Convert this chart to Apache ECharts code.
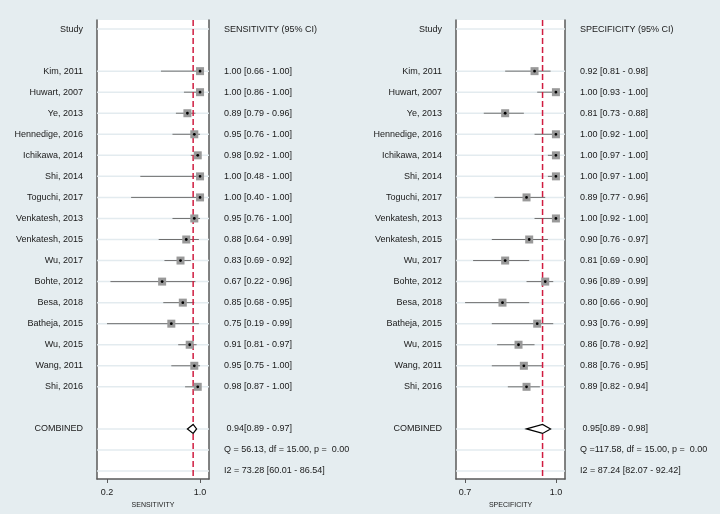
<!DOCTYPE html>
<html>
<head>
<meta charset="utf-8">
<script src="https://cdn.jsdelivr.net/npm/echarts@6/dist/echarts.min.js"></script>
<style>
html,body{margin:0;padding:0;background:#e5edf0;}
#chart{width:720px;height:514px;}
</style>
</head>
<body>
<div id="chart"></div>
<script>
// ---- data ----
const studies = ['Kim, 2011','Huwart, 2007','Ye, 2013','Hennedige, 2016','Ichikawa, 2014','Shi, 2014','Toguchi, 2017','Venkatesh, 2013','Venkatesh, 2015','Wu, 2017','Bohte, 2012','Besa, 2018','Batheja, 2015','Wu, 2015','Wang, 2011','Shi, 2016'];
const sensEst = [1.00,1.00,0.89,0.95,0.98,1.00,1.00,0.95,0.88,0.83,0.67,0.85,0.75,0.91,0.95,0.98];
const sensLo  = [0.66,0.86,0.79,0.76,0.92,0.48,0.40,0.76,0.64,0.69,0.22,0.68,0.19,0.81,0.75,0.87];
const sensHi  = [1.00,1.00,0.96,1.00,1.00,1.00,1.00,1.00,0.99,0.92,0.96,0.95,0.99,0.97,1.00,1.00];
const specEst = [0.92,1.00,0.81,1.00,1.00,1.00,0.89,1.00,0.90,0.81,0.96,0.80,0.93,0.86,0.88,0.89];
const specLo  = [0.81,0.93,0.73,0.92,0.97,0.97,0.77,0.92,0.76,0.69,0.89,0.66,0.76,0.78,0.76,0.82];
const specHi  = [0.98,1.00,0.88,1.00,1.00,1.00,0.96,1.00,0.97,0.90,0.99,0.90,0.99,0.92,0.95,0.94];
const sensCombined = [0.94, 0.89, 0.97];
const specCombined = [0.95, 0.89, 0.98];
const sensStats = ['Q = 56.13, df = 15.00, p =  0.00', 'I2 = 73.28 [60.01 - 86.54]'];
const specStats = ['Q =117.58, df = 15.00, p =  0.00', 'I2 = 87.24 [82.07 - 92.42]'];
const sensTickValues = [0.19, 1.0];
const sensTickLabels = ['0.2', '1.0'];
const specTickValues = [0.66, 1.0];
const specTickLabels = ['0.7', '1.0'];
const sensHeader = 'SENSITIVITY (95% CI)';
const specHeader = 'SPECIFICITY (95% CI)';

// ---- rows layout ----
const NROW = 22;
const rowIdx = Array.from({length: NROW}, (_, i) => i);
const studyRow = i => i + 2;
const combinedRow = 19;
const gridRows = [0].concat(studies.map((_, i) => studyRow(i))).concat([19, 20, 21]);

const f2 = v => v.toFixed(2);
function leftLabels() {
  const L = new Array(NROW).fill('');
  L[0] = 'Study';
  studies.forEach((s, i) => L[studyRow(i)] = s);
  L[combinedRow] = 'COMBINED';
  return L;
}
function rightLabels(header, est, lo, hi, comb, stats) {
  const L = new Array(NROW).fill('');
  L[0] = header;
  studies.forEach((s, i) => L[studyRow(i)] = f2(est[i]) + ' [' + f2(lo[i]) + ' - ' + f2(hi[i]) + ']');
  L[combinedRow] = ' ' + f2(comb[0]) + '[' + f2(comb[1]) + ' - ' + f2(comb[2]) + ']';
  L[20] = stats[0];
  L[21] = stats[1];
  return L;
}
const leftL = leftLabels();
const sensR = rightLabels(sensHeader, sensEst, sensLo, sensHi, sensCombined, sensStats);
const specR = rightLabels(specHeader, specEst, specLo, specHi, specCombined, specStats);

const FONT = 'Liberation Sans, Arial, sans-serif';
const TXT = '#1a1a1a';
const AXC = '#5a5a5a';
const YMIN = -0.43, YMAX = 21.38;

function yAxes(gi, rightL) {
  return [{
    type: 'value', gridIndex: gi, inverse: true, min: YMIN, max: YMAX, position: 'left',
    axisLine: {show: true, lineStyle: {color: AXC, width: 1.5}},
    axisTick: {show: false}, splitLine: {show: false},
    axisLabel: {customValues: rowIdx, formatter: v => leftL[Math.round(v)] || '', margin: 14,
      fontSize: 9, color: TXT, fontFamily: FONT}
  }, {
    type: 'value', gridIndex: gi, inverse: true, min: YMIN, max: YMAX, position: 'right',
    axisLine: {show: true, lineStyle: {color: AXC, width: 1.5}},
    axisTick: {show: false}, splitLine: {show: false},
    axisLabel: {customValues: rowIdx, formatter: v => rightL[Math.round(v)] || '', margin: 15,
      fontSize: 9, color: TXT, fontFamily: FONT, align: 'left'}
  }];
}
function xAxis(gi, min, max, tv, tl, name) {
  return {
    type: 'value', gridIndex: gi, min: min, max: max, position: 'bottom',
    axisLine: {show: true, onZero: false, lineStyle: {color: AXC, width: 1.5}},
    axisTick: {show: true, customValues: tv, length: 4, lineStyle: {color: AXC}},
    axisLabel: {customValues: tv, formatter: (v) => { const k = tv.findIndex(t => Math.abs(t - v) < 1e-6); return k >= 0 ? tl[k] : ''; },
      margin: 9, fontSize: 9, color: TXT, fontFamily: FONT},
    splitLine: {show: false},
    name: name, nameLocation: 'middle', nameGap: 19,
    nameTextStyle: {fontSize: 7, color: TXT, fontFamily: FONT}
  };
}

function gridSeries(xi, yi) {
  return {
    type: 'custom', xAxisIndex: xi, yAxisIndex: yi, z: 1, silent: true,
    data: gridRows.map(r => [0, r]),
    encode: {y: 1},
    renderItem: (params, api) => {
      const cs = params.coordSys;
      const y = api.coord([0, api.value(1)])[1];
      return {type: 'line', shape: {x1: cs.x, y1: y, x2: cs.x + cs.width, y2: y},
        style: {stroke: '#e3ebef', lineWidth: 1.5}};
    }
  };
}
function ciSeries(xi, yi, est, lo, hi) {
  return {
    type: 'custom', xAxisIndex: xi, yAxisIndex: yi, z: 2, silent: true,
    data: studies.map((s, i) => [est[i], lo[i], hi[i], studyRow(i)]),
    encode: {x: [1, 2], y: 3},
    renderItem: (params, api) => {
      const a = api.coord([api.value(1), api.value(3)]);
      const b = api.coord([api.value(2), api.value(3)]);
      return {type: 'line', shape: {x1: a[0], y1: a[1], x2: b[0], y2: b[1]},
        style: {stroke: '#6f6f6f', lineWidth: 1}};
    }
  };
}
function refSeries(xi, yi, comb) {
  return {
    type: 'custom', xAxisIndex: xi, yAxisIndex: yi, z: 3, silent: true,
    data: [[comb[0], 0]],
    encode: {x: 0},
    renderItem: (params, api) => {
      const cs = params.coordSys;
      const x = api.coord([api.value(0), 0])[0];
      return {type: 'line', shape: {x1: x, y1: cs.y, x2: x, y2: cs.y + cs.height},
        style: {stroke: '#d01c40', lineWidth: 1.5, lineDash: [6, 3]}};
    }
  };
}
function markerSeries(xi, yi, est) {
  return {
    type: 'custom', xAxisIndex: xi, yAxisIndex: yi, z: 4, silent: true,
    data: studies.map((s, i) => [est[i], studyRow(i)]),
    encode: {x: 0, y: 1},
    renderItem: (params, api) => {
      const p = api.coord([api.value(0), api.value(1)]);
      return {type: 'group', children: [
        {type: 'rect', shape: {x: p[0] - 4, y: p[1] - 4, width: 8, height: 8}, style: {fill: '#999999'}},
        {type: 'circle', shape: {cx: p[0], cy: p[1], r: 1.4}, style: {fill: '#000'}}
      ]};
    }
  };
}
function diamondSeries(xi, yi, comb) {
  return {
    type: 'custom', xAxisIndex: xi, yAxisIndex: yi, z: 5, silent: true,
    data: [[comb[0], comb[1], comb[2], combinedRow]],
    encode: {x: [1, 2], y: 3},
    renderItem: (params, api) => {
      const r = api.value(3);
      const m = api.coord([api.value(0), r]);
      const l = api.coord([api.value(1), r]);
      const h = api.coord([api.value(2), r]);
      const hh = 4.5;
      return {type: 'polygon', shape: {points: [[l[0], l[1]], [m[0], m[1] - hh], [h[0], h[1]], [m[0], m[1] + hh]]},
        style: {fill: '#fff', stroke: '#000', lineWidth: 1.2}};
    }
  };
}

const chart = echarts.init(document.getElementById('chart'), null, {renderer: 'canvas'});
chart.setOption({
  backgroundColor: '#e5edf0',
  animation: false,
  grid: [
    {left: 97, top: 20, width: 112, height: 459, show: true, backgroundColor: '#ffffff', borderWidth: 0},
    {left: 456, top: 20, width: 109, height: 459, show: true, backgroundColor: '#ffffff', borderWidth: 0}
  ],
  xAxis: [
    xAxis(0, 0.103, 1.078, sensTickValues, sensTickLabels, 'SENSITIVITY'),
    xAxis(1, 0.626, 1.034, specTickValues, specTickLabels, 'SPECIFICITY')
  ],
  yAxis: yAxes(0, sensR).concat(yAxes(1, specR)),
  series: [
    gridSeries(0, 0), ciSeries(0, 0, sensEst, sensLo, sensHi), refSeries(0, 0, sensCombined),
    markerSeries(0, 0, sensEst), diamondSeries(0, 0, sensCombined),
    gridSeries(1, 2), ciSeries(1, 2, specEst, specLo, specHi), refSeries(1, 2, specCombined),
    markerSeries(1, 2, specEst), diamondSeries(1, 2, specCombined)
  ]
});
</script>
</body>
</html>
